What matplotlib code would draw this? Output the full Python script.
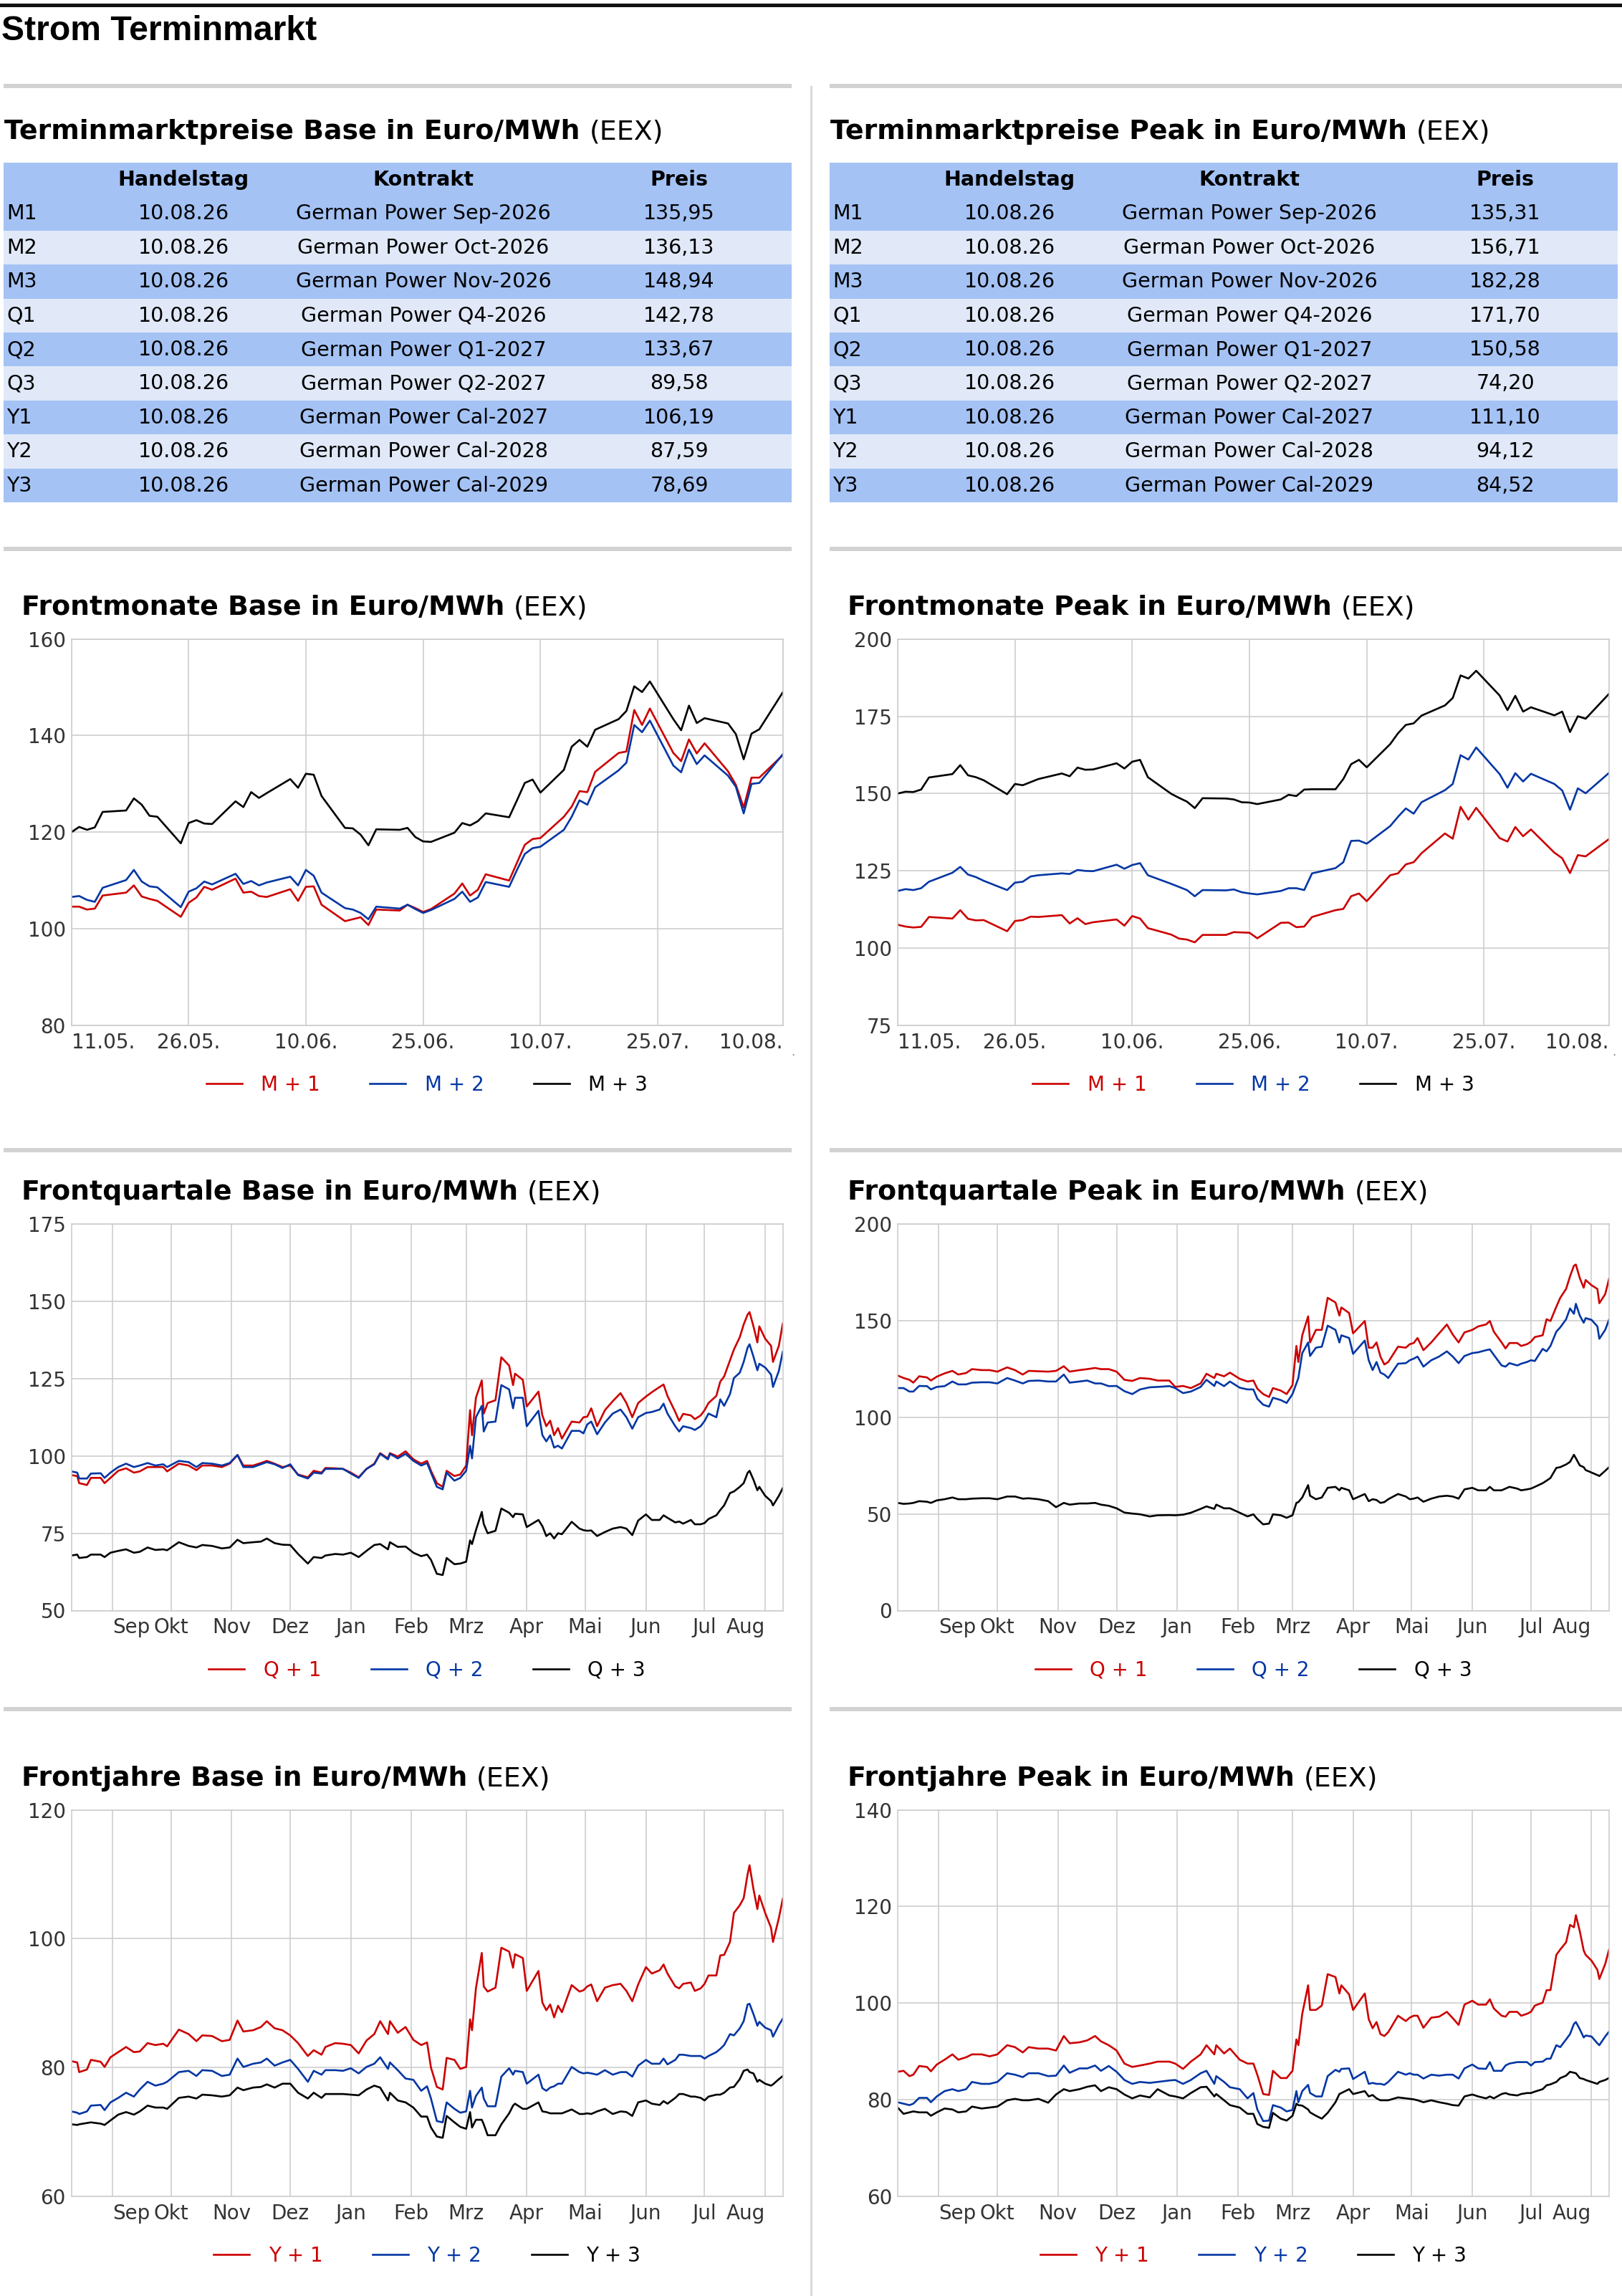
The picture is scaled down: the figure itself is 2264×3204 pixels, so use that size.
import matplotlib
matplotlib.use('Agg')
import matplotlib.pyplot as plt
from matplotlib.patches import Rectangle
import pandas as pd

W, H = 2264, 3204
ROT = '#cc0000'
BLAU = '#0336a3'
SCHWARZ = '#000000'
GRID = '#cccccc'
DUNKEL = '#a4c2f4'
HELL = '#e1e9f8'

plt.rcParams['font.family'] = 'DejaVu Sans'

# ---------------- Tabellen ----------------
zeilen = ['M1', 'M2', 'M3', 'Q1', 'Q2', 'Q3', 'Y1', 'Y2', 'Y3']
handelstag = '10.08.26'
kontrakte = ['German Power Sep-2026', 'German Power Oct-2026', 'German Power Nov-2026',
             'German Power Q4-2026', 'German Power Q1-2027', 'German Power Q2-2027',
             'German Power Cal-2027', 'German Power Cal-2028', 'German Power Cal-2029']
preise_base = ['135,95', '136,13', '148,94', '142,78', '133,67', '89,58', '106,19', '87,59', '78,69']
preise_peak = ['135,31', '156,71', '182,28', '171,70', '150,58', '74,20', '111,10', '94,12', '84,52']

# ---------------- Frontmonate (Handelstage 11.05. - 10.08.2026) ----------------
monat_tage = pd.bdate_range('2026-05-11', '2026-08-10')

mb_m1 = [104.6, 104.6, 104.0, 104.2, 106.9, 107.5, 109.0, 106.7, 106.2, 105.8,
         102.5, 105.4, 106.5, 108.7, 108.1, 110.4, 107.5, 107.7, 106.8, 106.6,
         108.2, 105.8, 108.7, 108.8, 105.0, 101.6, 102.0, 102.4, 100.8, 104.0,
         103.8, 105.0, 104.3, 103.5, 104.1, 107.3, 109.4, 106.9, 108.1, 111.3,
         110.0, 113.7, 117.4, 118.6, 118.8, 123.2, 125.3, 128.5, 128.3, 132.5,
         136.4, 136.7, 145.3, 142.2, 145.6, 136.4, 134.7, 139.2, 136.3, 138.4,
         132.6, 129.8, 125.1, 131.3, 131.3, 135.95]
mb_m2 = [106.6, 106.8, 106.0, 105.6, 108.5, 110.1, 112.2, 109.8, 108.8, 108.6,
         104.5, 107.7, 108.4, 109.8, 109.2, 111.4, 109.3, 109.9, 109.0, 109.6,
         110.8, 109.0, 112.2, 111.0, 107.5, 104.3, 104.0, 103.3, 102.0, 104.6,
         104.2, 105.0, 104.1, 103.3, 103.9, 106.2, 107.7, 105.6, 106.5, 109.7,
         108.7, 112.2, 115.5, 116.7, 117.0, 120.5, 123.2, 126.6, 125.7, 129.3,
         132.8, 134.4, 142.2, 140.7, 143.1, 133.8, 132.4, 137.1, 134.1, 135.9,
         131.7, 129.4, 123.9, 130.0, 130.2, 136.13]
mb_m3 = [120.0, 121.1, 120.5, 121.0, 124.2, 124.5, 127.0, 125.7, 123.4, 123.2,
         117.7, 121.9, 122.5, 121.8, 121.7, 126.4, 125.2, 128.3, 127.1, 128.1,
         131.0, 129.2, 132.1, 131.9, 127.5, 120.9, 120.8, 119.5, 117.3, 120.6,
         120.5, 120.9, 119.0, 118.1, 118.0, 119.9, 121.9, 121.4, 122.3, 123.9,
         123.1, 126.6, 130.2, 130.9, 128.2, 132.9, 137.7, 139.1, 137.7, 141.2,
         143.4, 145.1, 150.2, 149.0, 151.2, 143.4, 141.1, 146.2, 142.6, 143.6,
         142.5, 140.3, 135.1, 140.4, 141.3, 148.94]

mp_m1 = [107.6, 107.0, 106.7, 106.9, 110.1, 109.6, 112.3, 109.5, 109.0, 109.1,
         105.5, 108.8, 109.1, 110.2, 110.1, 110.7, 108.0, 109.7, 107.8, 108.4,
         109.3, 107.3, 110.4, 109.6, 106.5, 104.4, 103.1, 102.8, 101.9, 104.3,
         104.3, 105.2, 105.1, 105.0, 103.2, 108.2, 108.3, 106.8, 107.0, 110.1,
         112.3, 112.7, 116.8, 117.7, 115.2, 123.6, 124.2, 127.1, 127.8, 130.7,
         137.1, 135.4, 145.7, 141.6, 145.4, 135.6, 134.5, 139.2, 136.2, 138.4,
         130.9, 129.1, 124.3, 130.1, 129.7, 135.31]
mp_m2 = [118.5, 119.1, 118.8, 119.4, 121.5, 124.4, 126.3, 123.8, 123.0, 121.8,
         118.8, 121.2, 121.5, 123.2, 123.6, 124.2, 124.0, 125.3, 125.0, 124.9,
         127.0, 125.7, 126.9, 127.5, 123.6, 120.8, 119.8, 118.8, 116.8, 118.8,
         118.7, 119.0, 118.1, 117.7, 117.4, 118.5, 119.4, 119.4, 118.8, 124.2,
         125.9, 127.8, 134.7, 134.8, 133.8, 139.5, 142.5, 145.2, 143.5, 147.2,
         151.1, 153.1, 162.4, 161.0, 164.9, 156.3, 151.9, 156.6, 153.9, 156.4,
         153.1, 151.0, 144.8, 151.7, 150.1, 156.71]
mp_m3 = [150.0, 150.6, 150.5, 151.3, 155.2, 156.3, 159.2, 155.9, 155.3, 154.3,
         149.8, 153.1, 152.7, 153.7, 154.7, 156.5, 155.6, 158.4, 157.7, 157.8,
         159.8, 158.1, 160.3, 160.9, 155.3, 149.9, 148.6, 147.4, 145.3, 148.5,
         148.4, 148.1, 147.2, 147.1, 146.6, 148.1, 149.6, 149.2, 151.3, 151.4,
         151.4, 154.7, 159.5, 160.9, 158.5, 166.0, 169.5, 172.2, 172.7, 175.2,
         178.5, 180.9, 188.2, 187.2, 189.7, 181.7, 177.0, 181.6, 176.5, 177.9,
         175.3, 176.5, 169.9, 175.0, 174.2, 182.28]

# ---------------- Quartale / Jahre (Tage seit 11.08.2025) ----------------
start_lang = pd.Timestamp('2025-08-11')
tage_base = [0, 3, 4, 8, 10, 15, 17, 20, 24, 28, 32, 35, 39, 43, 47, 49, 55, 60, 64, 67,
             72, 77, 81, 85, 88, 93, 97, 100, 104, 108, 112, 116, 121, 124, 128, 130, 135, 139, 143, 147,
             151, 155, 158, 162, 163, 167, 171, 175, 179, 182, 184, 187, 190, 192, 196, 199, 202, 204, 205, 207,
             210, 211, 213, 217, 220, 224, 226, 227, 231, 233, 239, 241, 243, 245, 247, 249, 251, 256, 260, 262,
             264, 266, 269, 273, 277, 281, 284, 287, 290, 294, 297, 301, 303, 305, 309, 311, 313, 317, 319, 322,
             324, 326, 330, 332, 334, 337, 339, 342, 344, 346, 347, 349, 351, 352, 355, 358, 359, 362, 364]
tage_peak = [0, 3, 6, 8, 11, 15, 17, 20, 24, 28, 31, 35, 38, 43, 47, 51, 56, 60, 64, 67,
             72, 77, 81, 85, 88, 93, 97, 101, 104, 108, 112, 116, 120, 124, 129, 133, 139, 142, 146, 150,
             155, 158, 162, 163, 167, 170, 175, 179, 182, 184, 187, 190, 192, 196, 199, 202, 204, 205, 207, 210,
             211, 214, 217, 220, 224, 226, 227, 231, 233, 239, 241, 243, 245, 247, 249, 251, 256, 260, 262, 264,
             266, 269, 273, 277, 281, 284, 287, 290, 294, 297, 301, 303, 305, 309, 311, 313, 317, 319, 322, 324,
             326, 330, 332, 334, 337, 339, 342, 344, 346, 347, 349, 351, 352, 355, 358, 359, 362, 364]

qb_q1 = [93.8, 93.5, 91.2, 90.6, 92.9, 92.9, 91.2, 92.9, 95.2, 96.0,
         94.6, 95.0, 96.4, 96.4, 96.4, 95.0, 97.5, 96.9, 95.4, 96.9,
         96.9, 96.4, 97.5, 100.3, 96.9, 96.9, 97.7, 98.4, 97.5, 96.4,
         96.9, 94.0, 93.1, 95.2, 94.6, 96.1, 96.0, 95.8, 94.6, 93.1,
         95.8, 97.5, 100.9, 99.2, 100.9, 99.8, 101.5, 98.9, 97.5, 98.4,
         95.2, 91.2, 90.0, 95.2, 93.5, 94.0, 96.9, 114.8, 106.7, 118.8,
         124.4, 113.7, 117.1, 118.0, 131.9, 129.2, 122.9, 126.6, 124.6, 116.0,
         120.8, 113.1, 109.6, 111.4, 106.7, 109.0, 105.6, 111.1, 110.8, 112.5,
         112.7, 115.4, 109.6, 114.8, 117.7, 120.3, 117.1, 112.5, 117.1, 119.2,
         120.6, 122.3, 123.1, 119.4, 114.2, 111.3, 113.6, 113.1, 111.9, 113.1,
         114.8, 117.1, 119.4, 124.0, 125.7, 130.9, 134.4, 138.4, 142.5, 145.7,
         146.5, 141.9, 136.7, 141.9, 137.9, 135.6, 130.4, 135.6, 142.78]
qb_q2 = [95.0, 94.6, 92.7, 92.7, 94.3, 94.4, 92.9, 94.6, 96.4, 97.5,
         96.4, 96.9, 97.7, 96.9, 97.3, 96.4, 98.4, 98.0, 96.4, 97.7,
         97.5, 96.9, 97.7, 100.3, 96.4, 96.4, 97.3, 98.0, 97.3, 96.1,
         97.3, 93.8, 92.7, 94.6, 94.3, 95.8, 95.8, 95.8, 94.3, 92.9,
         95.8, 97.3, 100.7, 98.9, 100.7, 99.2, 100.7, 98.4, 96.9, 97.7,
         94.6, 90.0, 89.2, 94.6, 92.0, 92.9, 95.2, 103.3, 99.2, 112.5,
         116.2, 107.9, 110.8, 111.1, 122.9, 121.5, 115.4, 118.8, 118.8, 109.6,
         114.6, 106.7, 104.7, 106.7, 102.7, 103.3, 102.4, 108.1, 108.1, 107.3,
         110.2, 111.1, 107.0, 110.8, 113.7, 115.0, 112.5, 108.8, 112.5, 113.9,
         114.2, 115.0, 116.9, 113.7, 109.6, 107.9, 109.6, 109.0, 108.4, 109.6,
         111.3, 113.7, 112.5, 118.3, 116.2, 120.0, 125.2, 126.9, 130.4, 135.0,
         136.1, 132.1, 127.7, 129.8, 128.6, 126.3, 122.3, 127.5, 133.67]
qb_q3 = [67.8, 68.1, 67.0, 67.3, 68.1, 68.1, 67.3, 68.7, 69.3, 69.8,
         68.7, 69.0, 70.4, 69.6, 69.8, 69.5, 72.1, 70.9, 70.4, 71.2,
         70.9, 70.1, 70.4, 72.9, 71.8, 72.1, 72.3, 73.3, 71.8, 71.3,
         71.2, 68.3, 65.2, 67.3, 67.0, 67.8, 68.3, 68.1, 68.7, 67.3,
         69.3, 71.2, 71.5, 69.8, 72.1, 70.6, 70.7, 68.7, 67.6, 68.1,
         66.4, 61.9, 61.5, 67.0, 65.0, 65.2, 65.8, 72.7, 71.5, 76.0,
         81.9, 78.0, 75.0, 75.8, 83.0, 81.6, 80.2, 81.3, 81.1, 77.0,
         79.3, 77.3, 74.1, 75.0, 73.3, 75.0, 74.7, 78.7, 76.5, 76.0,
         75.8, 75.9, 74.1, 75.4, 76.5, 77.0, 76.5, 74.4, 79.1, 81.1,
         79.3, 79.3, 80.8, 80.0, 78.5, 78.8, 78.1, 79.3, 77.9, 77.9,
         78.3, 79.6, 80.8, 82.5, 84.0, 88.0, 88.5, 90.0, 91.2, 94.5,
         95.2, 92.3, 88.9, 90.0, 87.1, 85.4, 84.0, 87.1, 89.58]

qp_q1 = [121.6, 120.3, 119.4, 117.9, 121.2, 120.6, 119.0, 121.0, 122.7, 124.0,
         122.1, 122.9, 124.9, 124.4, 124.4, 123.6, 125.8, 124.4, 122.1, 124.0,
         123.8, 123.6, 124.0, 126.4, 123.6, 124.4, 124.9, 125.5, 124.9, 124.9,
         123.6, 119.4, 118.8, 120.3, 119.9, 119.0, 119.0, 115.7, 116.2, 115.1,
         117.5, 122.5, 120.3, 122.5, 121.2, 123.1, 119.9, 118.5, 119.0, 114.8,
         112.0, 110.5, 115.1, 113.8, 112.0, 116.6, 136.9, 128.6, 142.4, 152.2,
         138.7, 145.2, 145.2, 161.8, 159.4, 152.6, 156.8, 153.9, 143.4, 149.8,
         136.0, 136.0, 138.7, 131.4, 127.3, 128.6, 136.5, 136.0, 137.8, 138.4,
         141.0, 134.7, 138.7, 143.4, 148.0, 142.8, 138.7, 143.9, 145.2, 147.0,
         148.0, 149.8, 144.3, 138.7, 135.6, 138.4, 138.4, 136.9, 137.8, 139.1,
         141.5, 142.4, 150.7, 149.8, 157.2, 161.8, 166.4, 172.9, 178.4, 179.0,
         172.0, 167.0, 171.0, 168.3, 166.4, 159.0, 163.7, 171.70]
qp_q2 = [115.1, 115.1, 113.3, 113.3, 116.2, 116.1, 114.4, 115.7, 116.1, 118.5,
         117.0, 117.0, 117.9, 118.1, 118.1, 117.5, 120.3, 119.0, 117.5, 118.8,
         119.0, 118.5, 118.5, 122.1, 117.9, 118.5, 119.0, 117.5, 117.5, 116.1,
         116.2, 113.5, 112.0, 114.4, 115.5, 115.7, 116.1, 115.1, 112.5, 113.3,
         115.7, 119.4, 116.2, 118.5, 116.1, 118.5, 115.3, 114.4, 114.4, 109.6,
         106.5, 105.5, 110.1, 108.9, 107.4, 112.0, 117.5, 120.3, 133.2, 138.7,
         131.7, 136.0, 136.5, 147.4, 145.2, 138.7, 142.4, 141.0, 132.8, 139.7,
         129.5, 124.4, 128.6, 123.1, 122.1, 120.3, 127.7, 128.0, 129.5, 130.3,
         131.4, 126.2, 129.5, 131.4, 134.1, 131.4, 128.0, 131.7, 133.2, 133.6,
         134.7, 135.1, 132.3, 126.8, 126.2, 128.0, 126.8, 127.7, 128.6, 129.5,
         129.1, 135.4, 134.1, 136.9, 144.3, 146.5, 150.7, 156.3, 153.5, 158.7,
         152.6, 148.9, 151.3, 150.4, 147.0, 140.6, 145.2, 150.58]
qp_q3 = [55.7, 55.2, 55.4, 55.7, 56.6, 56.3, 55.7, 57.0, 57.6, 58.5,
         57.6, 57.6, 57.9, 58.1, 58.1, 57.6, 59.0, 59.0, 57.9, 58.1,
         57.6, 56.6, 53.5, 55.7, 54.8, 55.4, 55.4, 55.7, 54.8, 54.2,
         52.9, 50.7, 50.2, 49.8, 48.7, 49.3, 49.4, 49.3, 49.6, 50.6,
         52.6, 53.9, 52.6, 54.8, 52.9, 52.9, 50.6, 48.7, 49.8, 47.4,
         44.6, 45.0, 49.8, 49.3, 48.0, 49.3, 55.7, 56.1, 58.5, 64.9,
         59.4, 57.6, 58.5, 63.5, 64.0, 62.2, 63.5, 62.2, 57.6, 60.3,
         56.6, 57.6, 57.2, 55.7, 56.1, 57.6, 60.3, 59.0, 57.6, 57.9,
         58.5, 56.3, 57.9, 59.0, 59.4, 59.0, 57.9, 62.7, 63.5, 62.2,
         62.2, 64.0, 62.2, 62.2, 63.1, 64.0, 63.1, 62.2, 62.7, 63.1,
         64.0, 65.9, 67.2, 68.6, 73.8, 74.2, 75.6, 76.9, 80.6, 78.8,
         75.1, 74.2, 72.7, 71.4, 70.1, 69.6, 72.3, 74.20]

jb_y1 = [81.0, 80.8, 79.3, 79.7, 81.2, 80.9, 80.1, 81.6, 82.4, 83.2,
         82.4, 82.5, 83.8, 83.5, 83.7, 83.3, 85.9, 85.2, 84.1, 85.0,
         84.9, 84.1, 84.3, 87.3, 85.6, 85.8, 86.3, 87.2, 86.1, 85.8,
         85.0, 83.8, 81.8, 82.7, 82.0, 83.2, 83.8, 83.7, 83.5, 82.2,
         84.2, 85.2, 87.2, 85.2, 87.2, 85.4, 86.3, 84.3, 83.5, 83.9,
         80.0, 77.0, 76.6, 81.5, 81.2, 79.8, 80.1, 87.5, 85.8, 92.3,
         97.8, 92.6, 91.8, 92.4, 98.6, 98.0, 95.5, 97.6, 97.0, 91.9,
         95.0, 90.1, 88.9, 89.8, 87.8, 89.6, 88.6, 92.8, 91.8, 92.0,
         92.6, 92.9, 90.3, 92.4, 92.8, 93.0, 91.9, 90.3, 92.9, 95.6,
         94.6, 95.1, 96.0, 94.6, 92.6, 92.3, 93.0, 93.2, 91.9, 92.3,
         93.0, 94.3, 94.3, 97.4, 97.5, 99.5, 104.0, 105.2, 106.3, 110.0,
         111.4, 107.7, 104.6, 106.7, 104.0, 101.7, 99.5, 103.2, 106.19]
jb_y2 = [73.2, 73.0, 72.8, 73.2, 74.1, 74.2, 73.4, 74.6, 75.3, 76.1,
         75.5, 76.6, 77.8, 77.2, 77.5, 77.8, 79.3, 79.5, 78.7, 79.6,
         79.5, 78.7, 78.9, 81.4, 80.1, 80.6, 80.8, 81.4, 80.3, 80.8,
         81.2, 79.8, 77.8, 79.5, 78.9, 79.6, 79.6, 79.5, 79.9, 79.1,
         80.1, 80.6, 81.6, 79.8, 80.8, 79.6, 78.3, 78.1, 76.4, 77.1,
         75.2, 71.7, 71.5, 74.6, 73.6, 73.0, 73.2, 76.4, 73.8, 75.6,
         76.9, 75.2, 74.0, 74.0, 78.6, 79.9, 78.9, 79.5, 79.3, 77.5,
         78.9, 76.8, 76.4, 76.9, 77.1, 77.5, 77.5, 80.1, 79.3, 79.1,
         79.2, 79.1, 78.9, 79.6, 78.9, 79.3, 79.3, 78.6, 80.3, 81.2,
         80.6, 80.6, 81.4, 80.5, 81.2, 82.0, 82.0, 81.8, 81.8, 81.8,
         81.4, 81.8, 82.4, 82.9, 83.5, 85.2, 85.0, 86.1, 87.2, 89.8,
         89.9, 88.3, 86.5, 87.1, 86.2, 85.8, 84.8, 86.6, 87.59]
jb_y3 = [71.2, 71.1, 71.2, 71.4, 71.5, 71.3, 71.1, 71.8, 72.7, 73.1,
         72.7, 73.2, 74.1, 73.8, 73.8, 73.6, 75.3, 75.5, 75.2, 75.8,
         75.7, 75.5, 75.7, 76.9, 76.5, 76.9, 77.0, 77.4, 76.9, 77.5,
         77.5, 76.1, 75.2, 76.1, 75.3, 75.9, 75.9, 75.9, 75.8, 75.7,
         76.6, 77.2, 76.9, 74.9, 76.1, 74.9, 74.6, 73.8, 72.4, 72.4,
         70.7, 69.3, 69.1, 72.5, 71.5, 70.8, 70.5, 73.1, 70.7, 71.9,
         71.9, 71.2, 69.5, 69.5, 71.2, 72.9, 74.1, 74.4, 73.6, 73.6,
         74.6, 73.2, 73.1, 72.9, 72.9, 72.9, 72.9, 73.5, 72.8, 72.8,
         72.9, 72.8, 73.2, 73.6, 72.8, 73.2, 73.1, 72.5, 74.6, 74.9,
         74.4, 74.2, 74.8, 74.4, 75.3, 75.9, 75.9, 75.5, 75.5, 75.3,
         74.9, 75.5, 75.8, 75.8, 76.1, 76.9, 77.0, 78.2, 79.5, 79.7,
         79.3, 79.1, 77.8, 78.1, 77.5, 77.2, 77.4, 78.2, 78.69]

jp_y1 = [85.8, 86.0, 84.9, 85.2, 87.0, 86.8, 85.9, 87.3, 88.3, 89.4,
         88.3, 88.8, 89.4, 89.4, 89.0, 89.4, 91.3, 90.9, 89.8, 90.9,
         90.6, 90.6, 90.2, 93.2, 91.7, 91.9, 92.3, 93.2, 92.1, 91.3,
         90.2, 87.5, 86.8, 87.1, 87.5, 87.9, 87.9, 87.5, 86.4, 87.9,
         89.4, 91.3, 89.4, 91.3, 89.6, 90.6, 88.3, 87.5, 87.5, 85.2,
         81.2, 81.0, 86.0, 84.5, 84.5, 86.0, 92.5, 91.3, 97.8, 103.7,
         98.6, 98.6, 99.5, 106.0, 105.4, 102.0, 103.7, 101.8, 98.6, 102.0,
         96.7, 94.8, 96.1, 93.6, 93.2, 94.0, 97.4, 96.3, 97.0, 97.4,
         97.4, 94.9, 97.0, 97.2, 98.2, 96.9, 95.5, 99.7, 100.5, 99.7,
         99.7, 100.8, 98.9, 97.4, 97.2, 98.2, 98.2, 97.4, 97.8, 98.2,
         99.5, 100.1, 102.7, 102.7, 110.0, 111.1, 112.6, 116.2, 115.7, 118.2,
         114.9, 110.9, 110.0, 108.8, 106.9, 105.0, 108.1, 111.10]
jp_y2 = [79.5, 79.2, 78.9, 79.2, 80.4, 80.4, 79.5, 80.7, 81.8, 82.2,
         81.8, 82.2, 83.7, 83.3, 83.3, 83.7, 85.5, 85.2, 84.7, 85.5,
         85.5, 84.9, 85.0, 87.1, 85.6, 86.5, 86.5, 87.1, 86.0, 87.0,
         85.8, 84.1, 83.3, 83.7, 83.5, 83.7, 84.0, 84.1, 83.3, 84.1,
         85.5, 86.0, 83.3, 84.9, 83.7, 82.6, 82.2, 80.3, 81.4, 78.0,
         75.6, 75.7, 78.9, 78.4, 77.6, 77.9, 81.8, 79.5, 81.8, 83.1,
         81.4, 80.7, 80.7, 84.9, 86.2, 85.8, 86.4, 86.5, 84.3, 85.8,
         83.3, 83.5, 83.3, 83.3, 83.1, 83.7, 85.8, 85.2, 85.5, 85.2,
         85.2, 84.4, 85.2, 85.0, 85.2, 85.2, 84.4, 86.5, 87.3, 86.5,
         86.4, 87.8, 86.0, 86.0, 87.1, 87.5, 87.8, 87.8, 87.8, 87.1,
         87.8, 87.9, 88.5, 88.5, 91.3, 90.9, 92.5, 93.6, 95.7, 96.1,
         94.6, 92.9, 93.3, 93.1, 91.7, 91.3, 93.1, 94.12]
jp_y3 = [78.4, 77.1, 77.4, 77.6, 77.4, 77.4, 76.7, 77.4, 78.2, 78.0,
         77.4, 77.6, 78.6, 78.2, 78.4, 78.6, 79.9, 80.2, 79.9, 79.9,
         80.2, 79.4, 81.1, 82.2, 81.8, 82.2, 82.7, 83.0, 81.8, 82.6,
         82.2, 81.1, 80.3, 80.9, 80.5, 82.2, 80.9, 80.7, 80.3, 81.4,
         82.6, 82.7, 80.7, 81.2, 79.9, 78.9, 78.4, 77.1, 77.1, 75.0,
         74.4, 74.2, 77.3, 76.1, 75.7, 76.7, 79.2, 78.9, 78.8, 78.0,
         77.4, 76.7, 76.1, 77.3, 79.5, 81.2, 81.4, 82.2, 81.2, 81.8,
         80.7, 81.0, 80.3, 79.9, 79.9, 79.9, 80.5, 80.3, 80.2, 80.1,
         79.9, 79.5, 79.9, 79.5, 79.2, 78.9, 78.8, 80.7, 81.1, 80.7,
         80.3, 80.7, 80.3, 81.2, 81.4, 81.1, 80.9, 81.2, 81.4, 81.4,
         81.7, 82.2, 83.0, 83.2, 83.7, 84.5, 85.0, 85.8, 85.6, 85.5,
         84.5, 84.3, 84.1, 83.7, 83.3, 83.7, 84.1, 84.52]

monat_ticks = ['2026-05-11', '2026-05-26', '2026-06-10', '2026-06-25',
               '2026-07-10', '2026-07-25', '2026-08-10']
monat_labels = ['11.05.', '26.05.', '10.06.', '25.06.', '10.07.', '25.07.', '10.08.']
lang_ticks = pd.date_range('2025-09-01', '2026-08-01', freq='MS')
lang_labels = ['Sep', 'Okt', 'Nov', 'Dez', 'Jan', 'Feb', 'Mrz', 'Apr', 'Mai', 'Jun', 'Jul', 'Aug']

fig = plt.figure(figsize=(W / 100, H / 100), dpi=100)
renderer = fig.canvas.get_renderer()


def px_axes(l, t, r, b):
    return fig.add_axes([l / W, 1 - b / H, (r - l) / W, (b - t) / H])


def fig_rect(x0, y0, x1, y1, color):
    fig.add_artist(Rectangle((x0 / W, 1 - y1 / H), (x1 - x0) / W, (y1 - y0) / H,
                             transform=fig.transFigure, facecolor=color,
                             edgecolor='none', zorder=0))


def titel(x, y, fett, size=27.3):
    t = fig.text(x / W, 1 - y / H, fett, fontsize=size, fontweight='bold', va='baseline')
    bb = t.get_window_extent(renderer)
    fig.text((bb.x1 + 13) / W, 1 - y / H, '(EEX)', fontsize=size, va='baseline')


# Kopf
fig_rect(0, 4.5, W, 9.5, '#111111')
fig.text(2 / W, 1 - 56 / H, 'Strom Terminmarkt', fontsize=34.7, fontweight='bold',
         family=['Liberation Sans', 'DejaVu Sans'], va='baseline')

# Trennlinien
for y in (120, 766, 1605, 2385):
    fig_rect(5, y - 3, 1105, y + 3, '#d2d2d2')
    fig_rect(1158, y - 3, W, y + 3, '#d2d2d2')
fig_rect(1131, 120, 1133.5, H, '#d9d9d9')


def tabelle(x0, preise, ueberschrift):
    titel(x0 + 1, 194, ueberschrift)
    ax = px_axes(x0, 227, x0 + 1100, 701)
    ax.set_xlim(0, 1100)
    ax.set_ylim(474, 0)
    ax.axis('off')
    rh = 47.4
    for i in range(10):
        farbe = HELL if i in (2, 4, 6, 8) else DUNKEL
        ax.add_patch(Rectangle((0, i * rh), 1100, rh, facecolor=farbe, edgecolor='none'))
    kw = dict(fontsize=20.5, va='baseline')
    ax.text(251, 32, 'Handelstag', ha='center', fontweight='bold', **kw)
    ax.text(586, 32, 'Kontrakt', ha='center', fontweight='bold', **kw)
    ax.text(943, 32, 'Preis', ha='center', fontweight='bold', **kw)
    for i, (z, k, p) in enumerate(zip(zeilen, kontrakte, preise)):
        yb = (i + 1) * rh + 32
        ax.text(4, yb, z, ha='left', **kw)
        ax.text(251, yb, handelstag, ha='center', **kw)
        ax.text(586, yb, k, ha='center', **kw)
        ax.text(943, yb, p, ha='center', **kw)


tabelle(5, preise_base, 'Terminmarktpreise Base in Euro/MWh')
tabelle(1158, preise_peak, 'Terminmarktpreise Peak in Euro/MWh')


def chart(l, t, x, serien, namen, ylim, ystep, xlim, ticks, labels, ueberschrift):
    r = l + 993
    b = t + 539.5
    titel(l - 70, t - 33.5, ueberschrift)
    ax = px_axes(l, t, r, b)
    for werte, farbe, name in zip(serien, (ROT, BLAU, SCHWARZ), namen):
        ax.plot(x, werte, color=farbe, lw=1.9, label=name)
    ax.set_ylim(*ylim)
    ax.set_yticks(range(ylim[0], ylim[1] + 1, ystep))
    ax.set_xlim(pd.Timestamp(xlim[0]), pd.Timestamp(xlim[1]))
    ax.set_xticks(pd.to_datetime(ticks))
    ax.set_xticklabels(labels)
    lbl = ax.get_xticklabels()
    lbl[0].set_ha('left')
    lbl[-1].set_ha('right')
    ax.grid(True, color=GRID, lw=1.15)
    ax.set_axisbelow(True)
    for s in ax.spines.values():
        s.set_color(GRID)
        s.set_linewidth(1.15)
    ax.tick_params(axis='both', length=0, labelsize=20, labelcolor='#333333')
    ax.tick_params(axis='x', pad=7)
    ax.tick_params(axis='y', pad=5.5)
    ax.legend(loc='center', bbox_to_anchor=(0.5, -83 / 539.5), ncol=3, frameon=False,
              fontsize=20, handlelength=1.8, handletextpad=0.95, columnspacing=2.5,
              labelcolor='linecolor')
    return ax


lang_x_base = start_lang + pd.to_timedelta(tage_base, unit='D')
lang_x_peak = start_lang + pd.to_timedelta(tage_peak, unit='D')
lang_lim = ('2025-08-11', '2026-08-10')
monat_lim = ('2026-05-11', '2026-08-10')

# Frontmonate
chart(99.6, 891.6, monat_tage, (mb_m1, mb_m2, mb_m3), ('M + 1', 'M + 2', 'M + 3'),
      (80, 160), 20, monat_lim, monat_ticks, monat_labels, 'Frontmonate Base in Euro/MWh')
chart(1253, 891.6, monat_tage, (mp_m1, mp_m2, mp_m3), ('M + 1', 'M + 2', 'M + 3'),
      (75, 200), 25, monat_lim, monat_ticks, monat_labels, 'Frontmonate Peak in Euro/MWh')
fig.text(1104 / W, 1 - 1473 / H, '.', fontsize=12, color='#888888')
fig.text(2250 / W, 1 - 1473 / H, '.', fontsize=12, color='#888888')

# Frontquartale
chart(99.6, 1708, lang_x_base, (qb_q1, qb_q2, qb_q3), ('Q + 1', 'Q + 2', 'Q + 3'),
      (50, 175), 25, lang_lim, lang_ticks, lang_labels, 'Frontquartale Base in Euro/MWh')
chart(1253, 1708, lang_x_peak, (qp_q1, qp_q2, qp_q3), ('Q + 1', 'Q + 2', 'Q + 3'),
      (0, 200), 50, lang_lim, lang_ticks, lang_labels, 'Frontquartale Peak in Euro/MWh')

# Frontjahre
chart(99.6, 2525.6, lang_x_base, (jb_y1, jb_y2, jb_y3), ('Y + 1', 'Y + 2', 'Y + 3'),
      (60, 120), 20, lang_lim, lang_ticks, lang_labels, 'Frontjahre Base in Euro/MWh')
chart(1253, 2525.6, lang_x_peak, (jp_y1, jp_y2, jp_y3), ('Y + 1', 'Y + 2', 'Y + 3'),
      (60, 140), 20, lang_lim, lang_ticks, lang_labels, 'Frontjahre Peak in Euro/MWh')

fig.savefig('out.png', dpi=100)
